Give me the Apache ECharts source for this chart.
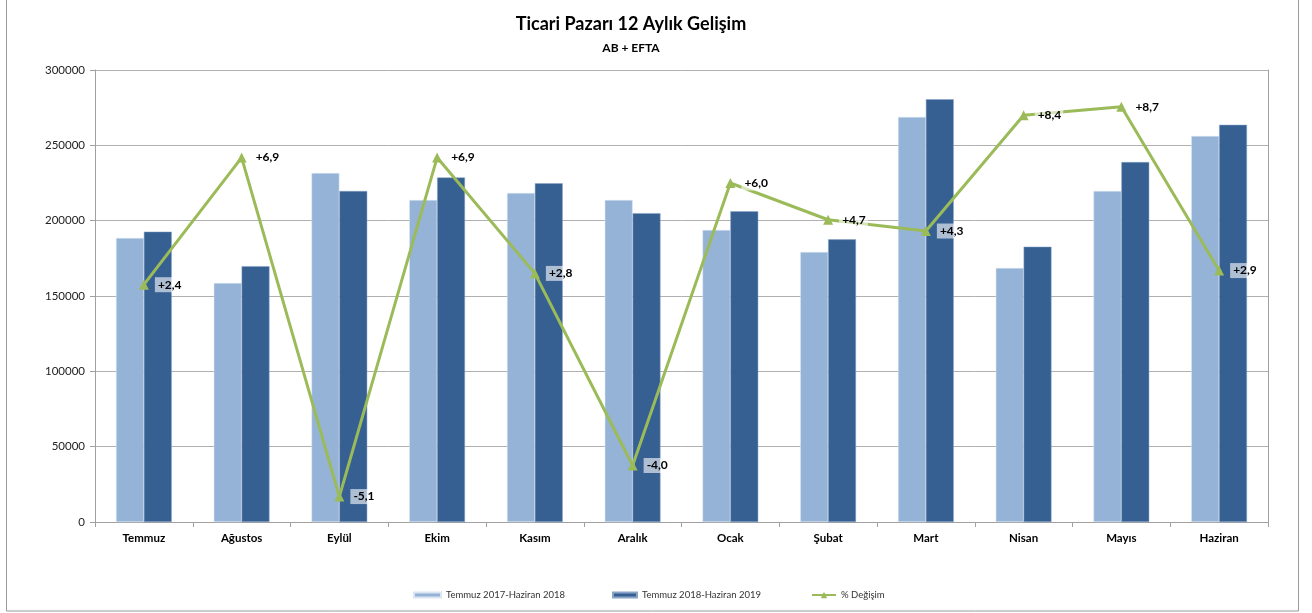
<!DOCTYPE html>
<html>
<head>
<meta charset="utf-8">
<script src="https://cdn.jsdelivr.net/npm/echarts@6/dist/echarts.min.js"></script>
<style>
html,body{margin:0;padding:0;background:#fff;}
#c{width:1312px;height:613px;}
</style>
</head>
<body>
<div id="c"></div>
<script>
const categories = ['Temmuz','Ağustos','Eylül','Ekim','Kasım','Aralık','Ocak','Şubat','Mart','Nisan','Mayıs','Haziran'];
const series2018 = [188500,158600,231600,213700,218400,213700,193800,179200,268800,168600,219700,256200];
const series2019 = [192700,169800,219700,228700,224800,205000,206200,187600,280600,182700,238900,263600];
const pctChange = [2.4,6.9,-5.1,6.9,2.8,-4.0,6.0,4.7,4.3,8.4,8.7,2.9];
const yTicks = [0,50000,100000,150000,200000,250000,300000];
const legendNames = ['Temmuz 2017-Haziran 2018','Temmuz 2018-Haziran 2019','% Değişim'];

const FONT = 'Lato, "Liberation Sans", sans-serif';
const chart = echarts.init(document.getElementById('c'), null, {renderer:'canvas'});
const fmtPct = v => (v >= 0 ? '+' : '') + v.toFixed(1).replace('.', ',');

const option = {
  animation: false,
  backgroundColor: '#fff',
  textStyle: {fontFamily: FONT},
  title: [
    {text: 'Ticari Pazarı 12 Aylık Gelişim', left: 626, top: 10, textAlign: 'center',
     textStyle: {fontSize: 18, fontWeight: 'bold', color: '#000', fontFamily: FONT}},
    {text: 'AB + EFTA', left: 626, top: 37, textAlign: 'center',
     textStyle: {fontSize: 12, fontWeight: 'bold', color: '#000', fontFamily: FONT}}
  ],
  legend: [
    {data: [{name: legendNames[0], icon: 'rect'}], left: 408, top: 585, itemWidth: 27, itemHeight: 5, itemGap: 3,
     textStyle: {fontSize: 9.5, color: '#333', fontFamily: FONT}},
    {data: [{name: legendNames[1], icon: 'rect'}], left: 607, top: 585, itemWidth: 24, itemHeight: 5,
     textStyle: {fontSize: 9.5, color: '#333', fontFamily: FONT}},
    {data: [legendNames[2]], left: 806, top: 585, itemWidth: 24, itemHeight: 8,
     textStyle: {fontSize: 9.5, color: '#333', fontFamily: FONT}}
  ],
  grid: {left: 95, right: 44, top: 70, bottom: 91, containLabel: false},
  xAxis: {
    type: 'category',
    data: categories,
    axisLine: {show: true, lineStyle: {color: '#a0a0a0', width: 1}},
    axisTick: {show: true, length: 5, lineStyle: {color: '#a0a0a0'}},
    axisLabel: {fontSize: 11.5, fontWeight: 'bold', color: '#000', margin: 10, fontFamily: FONT}
  },
  yAxis: [
    {
      type: 'value', min: 0, max: 300000, interval: 50000,
      axisLine: {show: true, lineStyle: {color: '#a0a0a0'}},
      axisTick: {show: true, length: 5, lineStyle: {color: '#a0a0a0'}},
      axisLabel: {fontSize: 11.5, color: '#222', margin: 10, fontFamily: FONT,
        formatter: v => yTicks.includes(v) ? String(v) : ''},
      splitLine: {show: true, lineStyle: {color: '#b0b0b0', width: 1}}
    },
    {
      type: 'value', min: -6, max: 10, interval: 2, position: 'right',
      axisLine: {show: true, lineStyle: {color: '#a0a0a0'}},
      axisTick: {show: false}, axisLabel: {show: false}, splitLine: {show: false}
    }
  ],
  series: [
    {name: legendNames[0], type: 'bar', data: series2018, barGap: '0%', barCategoryGap: '43%',
     itemStyle: {color: '#95b3d7', borderColor: '#dce6f2', borderWidth: 0.5}},
    {name: legendNames[1], type: 'bar', data: series2019,
     itemStyle: {color: '#366092', borderColor: '#8aa4c8', borderWidth: 0.5}},
    {name: legendNames[2], type: 'line', yAxisIndex: 1, data: pctChange,
     symbol: 'triangle', symbolSize: 10, z: 5,
     lineStyle: {color: '#9bbb59', width: 3},
     itemStyle: {color: '#9bbb59'},
     label: {show: true, position: 'right', distance: 6, formatter: p => fmtPct(p.value),
       fontSize: 12, fontWeight: 'bold', color: '#000', fontFamily: FONT,
       backgroundColor: 'rgba(255,255,255,0.6)', padding: [2, 2, 1, 3]}}
  ],
  graphic: [
    {type: 'rect', shape: {x: 6.5, y: -2, width: 1292, height: 613},
     style: {fill: 'none', stroke: '#9a9a9a', lineWidth: 1}, silent: true}
  ]
};
chart.setOption(option);
</script>
</body>
</html>
